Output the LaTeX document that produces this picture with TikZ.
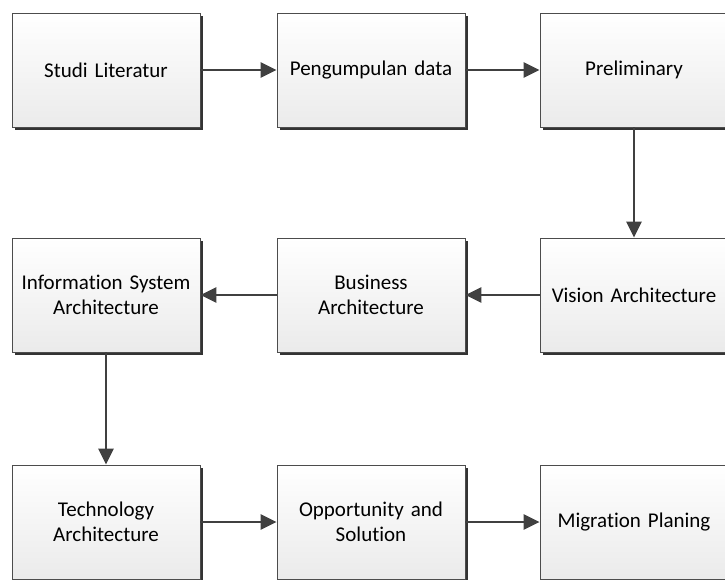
\documentclass[tikz,border=0pt]{standalone}
\usepackage{fontspec}
\setmainfont{Carlito}[Ligatures=NoCommon]
\usetikzlibrary{arrows.meta,shadows}
\begin{document}
\begin{tikzpicture}[x=1pt,y=-1pt,
  stepbox/.style={draw=black!70, line width=0.8pt, top color=white, bottom color=black!8,
    minimum width=188pt, minimum height=114pt, text width=186pt, align=center,
    inner sep=0pt, font=\fontsize{21}{25}\selectfont,
    drop shadow={shadow xshift=3pt, shadow yshift=-3pt, fill=black!80, opacity=1}},
  conn/.style={draw=black!75, line width=2.4pt, -{Triangle[length=16pt,width=15pt]}}]
\useasboundingbox (0,0) rectangle (725,579);
\node[stepbox] (a) at (106,70) {Studi Literatur};
\node[stepbox] (b) at (371,70) {Pengumpulan data};
\node[stepbox] (c) at (634,70) {Preliminary};
\node[stepbox] (d) at (634,295) {Vision Architecture};
\node[stepbox] (e) at (371,295) {Business\\Architecture};
\node[stepbox] (f) at (106,295) {Information System\\Architecture};
\node[stepbox] (g) at (106,522) {Technology\\Architecture};
\node[stepbox] (h) at (371,522) {Opportunity and\\Solution};
\node[stepbox] (i) at (634,522) {Migration Planing};
\draw[conn] (a) -- (b);
\draw[conn] (b) -- (c);
\draw[conn] (c) -- (d);
\draw[conn] (d) -- (e);
\draw[conn] (e) -- (f);
\draw[conn] (f) -- (g);
\draw[conn] (g) -- (h);
\draw[conn] (h) -- (i);
\end{tikzpicture}
\end{document}
